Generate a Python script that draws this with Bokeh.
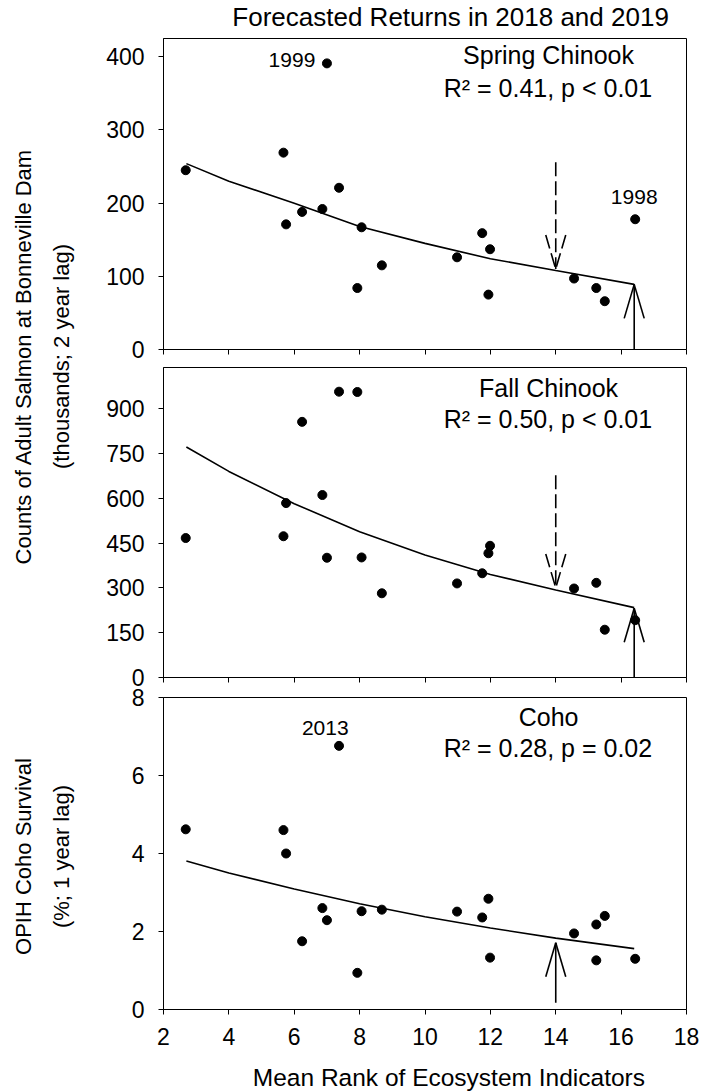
import math
from bokeh.plotting import figure
from bokeh.models import Range1d, FixedTicker, Arrow
from bokeh.layouts import row, column
from bokeh.embed import file_html
from bokeh.resources import INLINE
from bokeh.core.properties import value

FONT = "Liberation Sans"

# ---------------- data ----------------
# mean rank of ecosystem indicators (ocean year) for the 2-year-lag chinook series
rank_2yr = [2.68, 5.67, 5.75, 6.24, 6.86, 7.00, 7.37, 7.93, 8.06, 8.68,
            10.98, 11.75, 11.94, 11.99, 14.56, 15.24, 15.50, 16.43]
spring_chinook = [245, 269, 171, 188, 192, 391, 221, 84, 167, 115,
                  126, 159, 75, 137, 97, 84, 66, 178]
fall_chinook = [467, 473, 584, 856, 611, 401, 957, 956, 402, 282,
                315, 349, 416, 441, 298, 317, 160, 192]

# mean rank for the 1-year-lag coho series
rank_1yr = [2.68, 5.67, 5.75, 6.24, 6.86, 7.00, 7.37, 7.93, 8.06, 8.68,
            10.98, 11.75, 11.94, 11.99, 14.56, 15.24, 15.24, 15.50, 16.43]
coho_survival = [4.62, 4.60, 4.00, 1.75, 2.60, 2.29, 6.76, 0.94, 2.52, 2.56,
                 2.51, 2.36, 2.84, 1.33, 1.95, 2.18, 1.26, 2.40, 1.30]

# fitted curves
fit_x = [2.70, 4.0, 6.0, 8.0, 10.0, 12.0, 14.0, 16.40]
spring_fit = [254, 230, 200, 168, 145, 124, 108, 89]
fall_fit = [772, 690, 582, 488, 410, 345, 293, 234]
coho_fit = [3.81, 3.50, 3.09, 2.71, 2.38, 2.09, 1.83, 1.56]

# forecast arrows: rank of the forecasting year, arrow tail level, arrow tip level
rank_2016 = 16.40
rank_2017 = 14.0
spring_2018 = {"tail": -8, "tip": 89}
spring_2019 = {"tail": 256, "tip": 110}
fall_2018 = {"tail": -20, "tip": 232}
fall_2019 = {"tail": 677, "tip": 300}
coho_2018 = {"tail": 0.17, "tip": 1.71}

# ticks
x_ticks = [2, 4, 6, 8, 10, 12, 14, 16, 18]
spring_ticks = [0, 100, 200, 300, 400]
fall_ticks = [0, 150, 300, 450, 600, 750, 900]
coho_ticks = [0, 2, 4, 6, 8]

title_text = "Forecasted Returns in 2018 and 2019"
x_title = "Mean Rank of Ecosystem Indicators"
y_title_chinook = ["Counts of Adult Salmon at Bonneville Dam", "(thousands; 2 year lag)"]
y_title_coho = ["OPIH Coho Survival", "(%; 1 year lag)"]

# ---------------- layout constants ----------------
LAB_W = 88
MAIN_W = 613
BL, BR = 75, 15
FRAME_W = MAIN_W - BL - BR      # 523
X0, X1 = 2, 18
HEAD_HALF = 10   # px
HEAD_LEN = 34    # px
TICK_FONT = "23px"


def bare_fig(width, height):
    f = figure(width=width, height=height, x_range=Range1d(0, width),
               y_range=Range1d(0, height), output_backend="svg",
               toolbar_location=None, x_axis_type=None, y_axis_type=None,
               min_border=0)
    f.xgrid.visible = False
    f.ygrid.visible = False
    f.outline_line_color = None
    f.background_fill_color = "white"
    f.border_fill_color = "white"
    return f


def make_panel(height, btop, bbottom, y_end, y_ticks, show_x_labels):
    p = figure(width=MAIN_W, height=height, x_range=Range1d(X0, X1),
               y_range=Range1d(0, y_end), output_backend="svg",
               toolbar_location=None, min_border_left=BL, min_border_right=BR,
               min_border_top=btop, min_border_bottom=bbottom)
    p.xgrid.visible = False
    p.ygrid.visible = False
    p.outline_line_color = "black"
    p.outline_line_width = 1
    p.background_fill_color = "white"
    p.border_fill_color = None
    for ax, ticks in ((p.xaxis[0], x_ticks), (p.yaxis[0], y_ticks)):
        ax.ticker = FixedTicker(ticks=ticks)
        ax.minor_tick_line_color = None
        ax.major_tick_out = 5
        ax.major_tick_in = 0
        ax.axis_line_color = "black"
        ax.major_tick_line_color = "black"
        ax.major_label_text_font = FONT
        ax.major_label_text_font_size = TICK_FONT
        ax.major_label_text_color = "black"
    p.yaxis.major_label_standoff = 14
    if show_x_labels:
        p.xaxis.major_label_standoff = 13
    else:
        p.xaxis.major_label_text_font_size = "0px"
        p.xaxis.major_label_standoff = 0
        p.xaxis.major_label_overrides = {t: "" for t in x_ticks}
    return p, height - btop - bbottom


def add_text(p, x, y, text, size):
    p.text(x=[x], y=[y], text=[text], text_font=value(FONT), text_font_size=size,
           text_align="center", text_baseline="middle", text_color="black")


def add_arrow(p, x, lv, frame_h, y_end, dash):
    tail, tip = lv["tail"], lv["tip"]
    dx = HEAD_HALF * (X1 - X0) / FRAME_W
    dy = HEAD_LEN * y_end / frame_h * (1 if tail > tip else -1)
    parts = [(x, tail, x, tip), (x - dx, tip + dy, x, tip), (x + dx, tip + dy, x, tip)]
    for xs, ys, xe, ye in parts:
        p.add_layout(Arrow(end=None, x_start=xs, y_start=ys, x_end=xe, y_end=ye,
                           line_color="black", line_width=1.6, line_dash=dash))


def add_series(p, xs, ys, fy):
    p.line(fit_x, fy, line_color="black", line_width=1.6)
    p.scatter(xs, ys, size=9, fill_color="black", line_color="black")


# title strip
title_fig = bare_fig(MAIN_W, 37)
title_fig.text(x=[BL + FRAME_W / 2], y=[20.8], text=[title_text],
               text_font=value(FONT), text_font_size="26px",
               text_align="center", text_baseline="middle", text_color="black")

# panel 1: spring chinook
Y1 = 425
p1, fh1 = make_panel(326, 1, 14, Y1, spring_ticks, False)
add_series(p1, rank_2yr, spring_chinook, spring_fit)
add_arrow(p1, rank_2017, spring_2019, fh1, Y1, "14 5")
add_arrow(p1, rank_2016, spring_2018, fh1, Y1, "solid")
add_text(p1, 13.78, 402, "Spring Chinook", "25px")
add_text(p1, 13.76, 358, "R\u00b2 = 0.41, p < 0.01", "25px")
add_text(p1, 5.93, 395, "1999", "21px")
add_text(p1, 16.40, 209, "1998", "21px")

# panel 2: fall chinook (canvas runs a little under panel 3's top strip)
Y2 = 1038
p2, fh2 = make_panel(329, 4, 15, Y2, fall_ticks, False)
add_series(p2, rank_2yr, fall_chinook, fall_fit)
add_arrow(p2, rank_2017, fall_2019, fh2, Y2, "14 5")
add_arrow(p2, rank_2016, fall_2018, fh2, Y2, "solid")
add_text(p2, 13.78, 969, "Fall Chinook", "25px")
add_text(p2, 13.76, 865, "R\u00b2 = 0.50, p < 0.01", "25px")

# panel 3: coho
Y3 = 8
p3, fh3 = make_panel(370, 15, 43, Y3, coho_ticks, True)
p3.margin = (-10, 0, 0, 0)
add_series(p3, rank_1yr, coho_survival, coho_fit)
add_arrow(p3, rank_2017, coho_2018, fh3, Y3, "solid")
add_text(p3, 13.78, 7.50, "Coho", "25px")
add_text(p3, 13.76, 6.70, "R\u00b2 = 0.28, p = 0.02", "25px")
add_text(p3, 6.95, 7.23, "2013", "21px")

# x-axis title strip
xt_fig = bare_fig(MAIN_W, 40)
xt_fig.text(x=[BL + FRAME_W / 2 - 2], y=[14.8], text=[x_title],
            text_font=value(FONT), text_font_size="24.5px",
            text_align="center", text_baseline="middle", text_color="black")


# y-axis title column
def label_fig(height, lines, yc):
    f = bare_fig(LAB_W, height)
    f.text(x=[22.5, 60.5], y=[yc, yc], text=lines, angle=math.pi / 2,
           text_align="center", text_baseline="middle",
           text_font=value(FONT), text_font_size="22px", text_color="black")
    return f


lab12 = label_fig(687, y_title_chinook, 331)
lab3 = label_fig(405, y_title_coho, 236)

layout = row(column(lab12, lab3), column(title_fig, p1, p2, p3, xt_fig))
open("out.html", "w").write(file_html(layout, INLINE))
